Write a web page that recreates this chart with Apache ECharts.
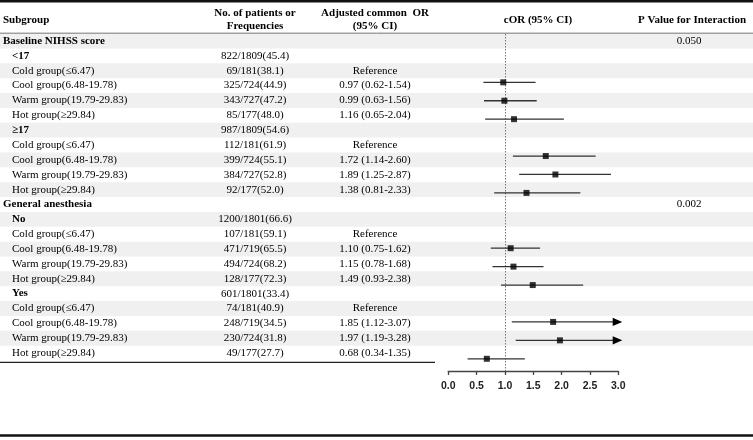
<!DOCTYPE html>
<html>
<head>
<meta charset="utf-8">
<script src="https://cdn.jsdelivr.net/npm/echarts@6/dist/echarts.min.js"></script>
<style>
html,body{margin:0;padding:0;background:#fff}
#main{width:753px;height:440px}
</style>
</head>
<body>
<div id="main"></div>
<script>
// table rows (left part)
var rowLabels = ['Baseline NIHSS score', '<17', 'Cold group(≤6.47)', 'Cool group(6.48-19.78)', 'Warm group(19.79-29.83)', 'Hot group(≥29.84)',
    '≥17', 'Cold group(≤6.47)', 'Cool group(6.48-19.78)', 'Warm group(19.79-29.83)', 'Hot group(≥29.84)',
    'General anesthesia', 'No', 'Cold group(≤6.47)', 'Cool group(6.48-19.78)', 'Warm group(19.79-29.83)', 'Hot group(≥29.84)',
    'Yes', 'Cold group(≤6.47)', 'Cool group(6.48-19.78)', 'Warm group(19.79-29.83)', 'Hot group(≥29.84)'];
var rowLevels = [0, 1, 2, 2, 2, 2, 1, 2, 2, 2, 2, 0, 1, 2, 2, 2, 2, 1, 2, 2, 2, 2];
var patientCounts = ['', '822/1809(45.4)', '69/181(38.1)', '325/724(44.9)', '343/727(47.2)', '85/177(48.0)',
    '987/1809(54.6)', '112/181(61.9)', '399/724(55.1)', '384/727(52.8)', '92/177(52.0)',
    '', '1200/1801(66.6)', '107/181(59.1)', '471/719(65.5)', '494/724(68.2)', '128/177(72.3)',
    '601/1801(33.4)', '74/181(40.9)', '248/719(34.5)', '230/724(31.8)', '49/177(27.7)'];
var pRows = [0, 11];
var pValues = ['0.050', '0.002'];

// forest plot rows (the plot has its own row spacing)
var plotRows = ['<17 cool', '<17 warm', '<17 hot', 'gap1', '≥17 cool', '≥17 warm', '≥17 hot', 'gap2', 'gap3',
    'no cool', 'no warm', 'no hot', 'gap4', 'yes cool', 'yes warm', 'yes hot'];
var estRows = ['<17 cool', '<17 warm', '<17 hot', '≥17 cool', '≥17 warm', '≥17 hot',
    'no cool', 'no warm', 'no hot', 'yes cool', 'yes warm', 'yes hot'];
var orVal = [0.97, 0.99, 1.16, 1.72, 1.89, 1.38, 1.10, 1.15, 1.49, 1.85, 1.97, 0.68];
var ciLow = [0.62, 0.63, 0.65, 1.14, 1.25, 0.81, 0.75, 0.78, 0.93, 1.12, 1.19, 0.34];
var ciHigh = [1.54, 1.56, 2.04, 2.60, 2.87, 2.33, 1.62, 1.68, 2.38, 3.07, 3.28, 1.35];

// OR text column, built from the estimates
var orText = [];
var e = 0;
rowLabels.forEach(function (lab, i) {
    if (rowLevels[i] !== 2) { orText.push(''); return; }
    if (lab.indexOf('Cold') === 0) { orText.push('Reference'); return; }
    orText.push(orVal[e].toFixed(2) + ' (' + ciLow[e].toFixed(2) + '-' + ciHigh[e].toFixed(2) + ')');
    e++;
});

var serif = "'Liberation Serif','Times New Roman',serif";
var fNorm = '11px ' + serif;
var fBold = 'bold 11px ' + serif;

function txt(s, x, y, font, align) {
    return {
        type: 'text',
        style: {text: s, x: x, y: y, font: font, fill: '#000',
            align: align, textAlign: align, verticalAlign: 'middle', textVerticalAlign: 'middle'}
    };
}

var myChart = echarts.init(document.getElementById('main'));

var tableData = rowLabels.map(function (l, i) { return [i]; });
var ciData = estRows.map(function (r, i) { return [ciLow[i], ciHigh[i], plotRows.indexOf(r)]; });
var ptData = estRows.map(function (r, i) { return [orVal[i], plotRows.indexOf(r)]; });

var option = {
    backgroundColor: '#fff',
    animation: false,
    grid: [
        {left: 0, right: 0, top: 33.6, height: 326.9},
        {left: 448.3, width: 170, top: 73.1, height: 294.9}
    ],
    xAxis: [
        {gridIndex: 0, type: 'value', min: 0, max: 753, show: false},
        {
            gridIndex: 1, type: 'value', min: 0, max: 3, interval: 0.5, offset: 3, position: 'bottom',
            axisLine: {show: true, onZero: false, lineStyle: {color: '#444', width: 1.4}},
            axisTick: {show: true, length: 4, lineStyle: {color: '#444', width: 1.3}},
            axisLabel: {
                margin: 10, color: '#222', fontWeight: 'bold', fontSize: 10.5,
                fontFamily: "'Liberation Sans',Arial,sans-serif",
                formatter: function (v) { return v.toFixed(1); }
            },
            splitLine: {show: false}
        }
    ],
    yAxis: [
        {gridIndex: 0, type: 'value', inverse: true, min: -0.5, max: rowLabels.length - 0.5, show: false},
        {gridIndex: 1, type: 'value', inverse: true, min: -0.5, max: plotRows.length - 0.5, show: false}
    ],
    graphic: [
        {type: 'line', shape: {x1: 0, y1: 1.3, x2: 753, y2: 1.3}, style: {stroke: '#111', lineWidth: 2.6}},
        {type: 'line', shape: {x1: 0, y1: 33.3, x2: 753, y2: 33.3}, style: {stroke: '#222', lineWidth: 1}},
        {type: 'line', shape: {x1: 0, y1: 362.3, x2: 435, y2: 362.3}, style: {stroke: '#222', lineWidth: 1.3}},
        {type: 'line', shape: {x1: 0, y1: 435.5, x2: 753, y2: 435.5}, style: {stroke: '#111', lineWidth: 2.5}},
        txt('Subgroup', 3, 20, fBold, 'left'),
        txt('No. of patients or', 255, 13.3, fBold, 'center'),
        txt('Frequencies', 255, 26.3, fBold, 'center'),
        txt('Adjusted common  OR', 375, 13.3, fBold, 'center'),
        txt('(95% CI)', 375, 26.3, fBold, 'center'),
        txt('cOR (95% CI)', 538, 20, fBold, 'center'),
        txt('P Value for Interaction', 692, 20, fBold, 'center')
    ],
    series: [
        {
            // table: bands and text cells
            type: 'custom',
            xAxisIndex: 0, yAxisIndex: 0,
            z: 1,
            data: tableData,
            renderItem: function (params, api) {
                var i = api.value(0);
                var y = api.coord([0, i])[1];
                var h = api.size([0, 1])[1];
                var cs = params.coordSys;
                var kids = [];
                if (i % 2 === 0) {
                    kids.push({type: 'rect', shape: {x: cs.x, y: y - h / 2, width: cs.width, height: h},
                        style: {fill: '#f0f0f0'}});
                }
                var lv = rowLevels[i];
                kids.push(txt(rowLabels[i], lv === 0 ? 3 : 12, y, lv === 2 ? fNorm : fBold, 'left'));
                if (patientCounts[i]) kids.push(txt(patientCounts[i], 255, y, fNorm, 'center'));
                if (orText[i]) kids.push(txt(orText[i], 375, y, fNorm, 'center'));
                var p = pRows.indexOf(i);
                if (p >= 0) kids.push(txt(pValues[p], 689, y, fNorm, 'center'));
                return {type: 'group', children: kids};
            }
        },
        {
            // reference line at OR = 1
            type: 'custom',
            xAxisIndex: 1, yAxisIndex: 1,
            z: 2,
            data: [[1]],
            renderItem: function (params, api) {
                var x = Math.round(api.coord([api.value(0), 0])[0]) + 0.5;
                var cs = params.coordSys;
                return {type: 'line', shape: {x1: x, y1: 34, x2: x, y2: cs.y + cs.height + 3},
                    style: {stroke: '#777', lineWidth: 1, lineDash: [1.5, 1.5]}};
            }
        },
        {
            // CI lines with arrows when past the axis max
            type: 'custom',
            xAxisIndex: 1, yAxisIndex: 1,
            z: 3,
            data: ciData,
            renderItem: function (params, api) {
                var lo = api.value(0), hi = api.value(1), k = api.value(2);
                var p1 = api.coord([lo, k]);
                var xMax = api.coord([3, k])[0];
                var kids = [];
                if (hi > 3) {
                    kids.push({type: 'line', shape: {x1: p1[0], y1: p1[1], x2: xMax - 5, y2: p1[1]},
                        style: {stroke: '#333', lineWidth: 1.3}});
                    kids.push({type: 'polygon', shape: {points: [[xMax - 5.6, p1[1] - 4.2], [xMax + 4, p1[1]], [xMax - 5.6, p1[1] + 4.2]]},
                        style: {fill: '#000'}});
                } else {
                    var p2 = api.coord([hi, k]);
                    kids.push({type: 'line', shape: {x1: p1[0], y1: p1[1], x2: p2[0], y2: p2[1]},
                        style: {stroke: '#333', lineWidth: 1.3}});
                }
                return {type: 'group', children: kids};
            }
        },
        {
            type: 'scatter',
            xAxisIndex: 1, yAxisIndex: 1,
            z: 4,
            symbol: 'rect',
            symbolSize: 6,
            itemStyle: {color: '#000'},
            data: ptData
        }
    ]
};
myChart.setOption(option);
</script>
</body>
</html>
